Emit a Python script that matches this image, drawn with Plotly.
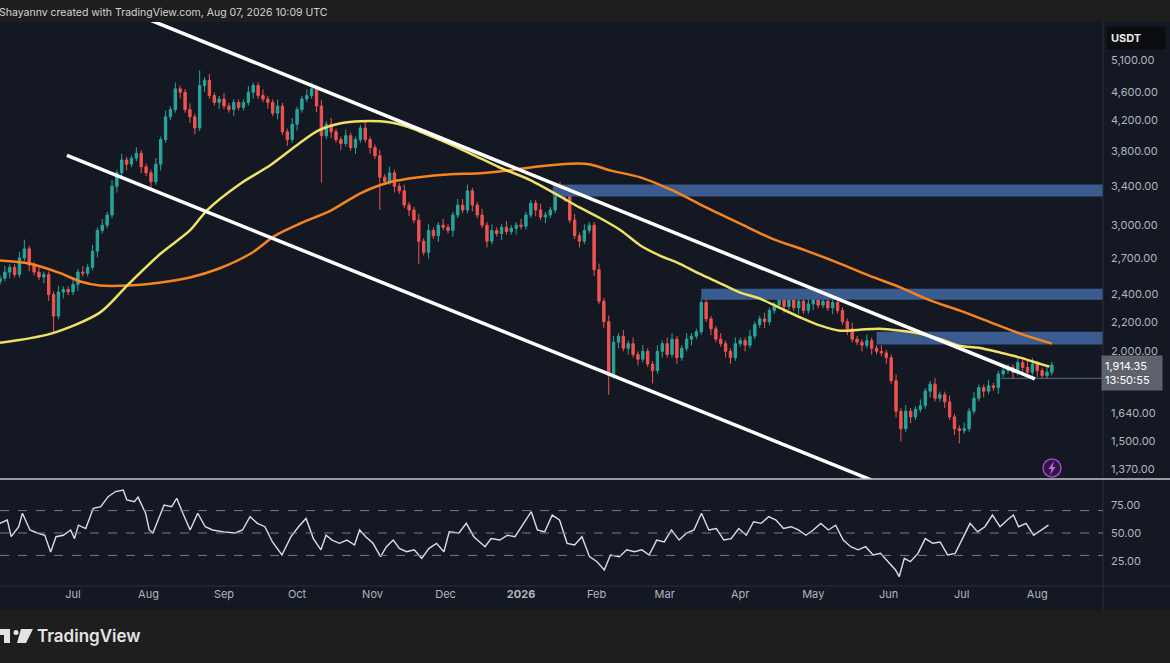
import numpy as np
import pandas as pd
import plotly.graph_objects as go

### Data ###
start = pd.Timestamp("2025-06-01")
candle_step = 2  # days per candle

first_open = 2500
closes = [
    2530, 2580, 2620, 2560, 2700, 2780, 2640, 2580, 2540, 2560,
    2400, 2240, 2420, 2440, 2420, 2480, 2580, 2570, 2620, 2760,
    2950, 3000, 3100, 3400, 3550, 3700, 3650, 3720, 3780, 3620,
    3550, 3450, 3650, 3950, 4250, 4350, 4650, 4600, 4350, 4250,
    4100, 4700, 4780, 4550, 4450, 4500, 4400, 4350, 4450, 4380,
    4450, 4600, 4700, 4550, 4500, 4450, 4300, 4400, 4050, 3950,
    4150, 4350, 4500, 4550, 4650, 4400, 4000, 4150, 4050, 3950,
    3900, 4000, 3850, 3950, 4100, 3950, 3850, 3750, 3500, 3450,
    3550, 3400, 3350, 3200, 3150, 3050, 2850, 2750, 2950, 2900,
    3000, 2980, 2950, 3100, 3200, 3150, 3350, 3200, 3100, 3000,
    2850, 2950, 2920, 2980, 2940, 2970, 3000, 2990, 3100, 3220,
    3150, 3080, 3100, 3150, 3380, 3350, 3300, 3050, 2900, 2850,
    2950, 3000, 2600, 2350, 2200, 1850, 2060, 2100, 2020, 2050,
    1980, 1950, 2000, 1920, 1880, 2000, 2050, 1980, 2080, 1960,
    2020, 2080, 2100, 2130, 2340, 2220, 2150, 2080, 2050, 2000,
    1960, 2050, 2070, 2040, 2100, 2180, 2220, 2200, 2280, 2320,
    2380, 2310, 2360, 2300, 2350, 2280, 2330, 2360, 2320, 2350,
    2300, 2340, 2280, 2200, 2150, 2080, 2060, 2040, 2070, 2020,
    2000, 1990, 1960, 1820, 1650, 1560, 1650, 1620, 1660, 1680,
    1760, 1800, 1720, 1740, 1700, 1620, 1560, 1550, 1560, 1650,
    1720, 1780, 1760, 1790, 1780, 1860, 1880, 1900, 1870, 1930,
    1900, 1870, 1920, 1880, 1850, 1870, 1914.35,
]
# wick lengths in percent of the body edge
upper_wick = [
    1, 2, 1, 1, 2, 3, 1, 1, 2, 1,
    1, 1, 2, 1, 1, 2, 1, 2, 1, 2,
    1, 2, 1, 2, 1, 2, 1, 1, 2, 1,
    1, 1, 2, 1, 2, 1, 2, 1, 1, 2,
    1, 5, 1, 2, 1, 1, 2, 1, 1, 1,
    1, 2, 1, 1, 2, 1, 1, 2, 1, 1,
    2, 1, 1, 2, 2, 1, 2, 1, 2, 1,
    1, 2, 1, 1, 1, 2, 1, 1, 2, 1,
    2, 1, 1, 2, 1, 1, 2, 1, 2, 1,
    1, 2, 1, 1, 2, 2, 2, 1, 1, 2,
    1, 2, 1, 1, 2, 1, 1, 2, 1, 1,
    1, 2, 1, 1, 1, 2, 1, 1, 2, 1,
    2, 1, 1, 2, 1, 2, 2, 1, 2, 1,
    2, 1, 2, 1, 1, 2, 1, 2, 2, 1,
    1, 2, 1, 1, 1, 2, 1, 1, 2, 1,
    1, 2, 1, 1, 2, 1, 1, 2, 1, 1,
    2, 1, 1, 2, 1, 1, 2, 1, 1, 2,
    1, 1, 2, 1, 1, 2, 1, 1, 2, 1,
    1, 2, 1, 1, 2, 1, 2, 1, 1, 2,
    1, 1, 2, 1, 1, 2, 1, 1, 2, 1,
    2, 1, 1, 2, 1, 1, 2, 1, 1, 2,
    1, 2, 2, 1, 1, 2, 1,
]
lower_wick = [
    1, 1, 2, 1, 1, 1, 2, 1, 1, 2,
    2, 5, 1, 2, 1, 1, 2, 1, 1, 1,
    2, 1, 1, 1, 2, 1, 2, 1, 1, 2,
    1, 2, 1, 2, 1, 1, 1, 2, 1, 2,
    2, 1, 2, 1, 1, 2, 1, 1, 2, 1,
    1, 1, 2, 1, 1, 2, 1, 2, 1, 2,
    1, 2, 1, 1, 1, 2, 14, 1, 2, 1,
    2, 1, 1, 2, 1, 1, 2, 1, 10, 1,
    1, 2, 1, 1, 2, 1, 7, 1, 2, 1,
    2, 1, 1, 2, 1, 1, 1, 2, 1, 1,
    2, 1, 1, 2, 1, 1, 2, 1, 1, 1,
    2, 1, 2, 1, 1, 1, 2, 1, 1, 2,
    1, 1, 2, 1, 2, 6, 1, 2, 1, 2,
    1, 2, 1, 1, 4, 1, 2, 1, 1, 2,
    1, 1, 2, 1, 1, 1, 2, 1, 1, 2,
    2, 1, 1, 2, 1, 1, 1, 2, 1, 1,
    1, 2, 1, 1, 2, 1, 1, 2, 1, 1,
    1, 2, 1, 1, 2, 1, 1, 2, 1, 2,
    1, 1, 2, 1, 2, 4, 1, 2, 1, 1,
    1, 2, 1, 1, 2, 1, 2, 4, 1, 1,
    1, 1, 2, 1, 1, 2, 1, 1, 2, 1,
    2, 1, 1, 2, 1, 1, 1,
]

# (day since start, price)
yellow_ma = [
    (0, 2056), (21, 2117), (41, 2265), (53, 2487), (66, 2739), (78, 2950), (85, 3147),
    (99, 3433), (111, 3637), (123, 3904), (131, 4071), (140, 4163), (148, 4191),
    (160, 4177), (168, 4110), (181, 3942), (193, 3780), (205, 3614), (218, 3466),
    (230, 3291), (238, 3176), (246, 3075), (255, 2950), (263, 2811), (271, 2721),
    (279, 2652), (287, 2569), (296, 2487), (304, 2416), (312, 2370), (320, 2302),
    (329, 2228), (337, 2172), (345, 2137), (353, 2144), (361, 2151), (370, 2137),
    (378, 2117), (386, 2082), (394, 2036), (402, 2023), (411, 1991), (419, 1960),
    (427, 1922), (431, 1904),
]
orange_ma = [
    (0, 2678), (12, 2652), (25, 2569), (33, 2503), (41, 2471), (53, 2471), (66, 2495),
    (78, 2536), (90, 2610), (103, 2739), (113, 2901), (123, 3014), (136, 3147),
    (148, 3324), (160, 3444), (172, 3499), (185, 3533), (197, 3544), (209, 3579),
    (222, 3625), (234, 3655), (242, 3650), (251, 3575), (263, 3499), (276, 3357),
    (290, 3176), (304, 3014), (317, 2874), (331, 2765), (345, 2652), (357, 2551),
    (370, 2455), (382, 2356), (394, 2281), (407, 2194), (419, 2117), (432, 2050),
]
rsi_points = [
    (0, 58.6), (3, 61.6), (4.6, 46.7), (7.7, 55.6), (9.2, 67.6), (12.3, 52.7), (15.3, 50),
    (18.4, 48), (20.8, 33), (23, 46.7), (26, 48), (29, 52.7), (30.6, 45), (32.2, 57),
    (35.2, 54), (38.3, 72), (41.4, 73.5), (44.4, 82.4), (47.5, 87), (50.6, 88.4),
    (52.1, 79.5), (55.2, 78), (56.7, 82), (59.8, 67.6), (61.3, 52.7), (62.8, 50),
    (64.4, 58.6), (67.4, 75), (70.5, 73.5), (72.6, 81), (75.1, 67.6), (78.1, 52.7),
    (81.2, 67.6), (84.3, 55.6), (87.3, 52.7), (91.9, 51), (96.5, 50), (99.6, 52.7),
    (102.7, 64.6), (105.7, 58.6), (108.8, 55.6), (111.9, 42), (115.8, 30.4),
    (119.5, 46.7), (122.6, 55.6), (125.7, 63), (128.7, 45), (131.8, 35), (133.9, 48),
    (136.4, 43.7), (139.4, 40.8), (142.5, 43.7), (145.6, 39.3), (147.7, 52.7),
    (150.2, 46.7), (153.2, 40.8), (156.3, 28.9), (158.7, 37.8), (161.5, 43.7),
    (164, 36.3), (167, 33.3), (170.1, 35), (173.2, 27.4), (176.2, 36.3), (179.3, 40.8),
    (182.3, 33.3), (184.5, 51), (188.5, 50), (191.5, 58.6), (194.6, 46.7), (199.2, 37.8),
    (201.7, 45), (205.3, 43.7), (208.4, 48), (211.5, 46.7), (214.5, 57), (218.2, 69),
    (220.7, 52.7), (223.7, 51), (226.8, 66), (229.8, 61.6), (232.9, 40.8), (236, 39.3),
    (239, 46.7), (242.1, 28.9), (245.2, 24.4), (248.2, 17), (250.7, 30.4), (254.4, 28.9),
    (257.4, 35), (260.5, 33.3), (263.6, 35), (266.6, 30.4), (269.7, 43.7), (272.8, 42),
    (275.8, 52.7), (278.9, 43.7), (282, 50), (285, 52.7), (288.1, 67.6), (291.1, 52.7),
    (294.2, 54), (297.3, 43.7), (300.3, 45), (303.4, 54), (306.5, 48), (309.5, 60),
    (312.6, 58.6), (315.7, 64.6), (318.7, 61.6), (321.8, 54), (324.9, 55.6),
    (327.9, 52.7), (331, 48), (334, 52.7), (337.1, 58.6), (340.2, 52.7), (343.2, 57),
    (346.3, 43.7), (349.4, 37.8), (352.4, 35), (355.5, 37.8), (358.6, 30.4),
    (361.6, 31.8), (364.7, 24.4), (367.8, 17), (369.3, 11), (371.4, 27.4), (373.9, 24.4),
    (377, 31.8), (380, 45), (383.1, 40.8), (386.1, 42), (389.2, 30.4), (392.3, 31.8),
    (395.3, 45), (398.4, 58.6), (401.5, 51), (404.5, 55.6), (407.6, 66), (410.7, 55.6),
    (413.7, 61.6), (416.2, 66), (418.3, 55.6), (421.4, 58.6), (424.5, 48), (427.5, 52.7),
    (430.6, 57),
]

channel_upper = [(57.5, 5877), (425, 1831)]
channel_lower = [(27.5, 3756), (372, 1265)]
# (start day, low price, high price)
zones = [(227, 3290, 3420), (288, 2360, 2445), (360, 2045, 2130)]
level_line = (411, 1834)

price_ticks = [1370, 1500, 1640, 1800, 2000, 2200, 2400, 2700, 3000, 3400, 3800, 4200, 4600, 5100]
rsi_ticks = [25, 50, 75]
rsi_bands = [30, 50, 70]
month_ticks = pd.date_range("2025-06-01", "2026-08-01", freq="MS")

x_days = (0, 453)
price_range = (1327, 5764)
rsi_range = (2.7, 97.3)
countdown = "13:50:55"

### Helpers ###
W, H = 1170, 663


def day(d):
    return start + pd.to_timedelta(d, unit="D")


def px(x):
    return x / W


def py(y):
    return 1 - y / H


### Candles ###
c = np.array(closes, dtype=float)
o = np.concatenate([[first_open], c[:-1]])
hi = np.maximum(o, c) * (1 + np.array(upper_wick) / 100)
lo = np.minimum(o, c) * (1 - np.array(lower_wick) / 100)
dates = day(np.arange(len(c)) * candle_step)

up, down = "#26a69a", "#ef5350"
bg = "#141823"
axis_font = dict(size=11, color="#b2b5be")

fig = go.Figure()

for d0, p_lo, p_hi in zones:
    fig.add_trace(go.Scatter(
        x=[day(d0), day(x_days[1]), day(x_days[1]), day(d0), day(d0)],
        y=[p_lo, p_lo, p_hi, p_hi, p_lo],
        fill="toself", fillcolor="#3a5b8e", mode="lines", line=dict(width=0),
        hoverinfo="skip",
    ))

fig.add_trace(go.Candlestick(
    x=dates, open=o, high=hi, low=lo, close=c,
    increasing=dict(line=dict(color=up, width=1), fillcolor=up),
    decreasing=dict(line=dict(color=down, width=1), fillcolor=down),
    whiskerwidth=0,
))

fig.add_trace(go.Scatter(
    x=[day(level_line[0]), day(x_days[1])], y=[level_line[1]] * 2,
    mode="lines", line=dict(color="#5d6c8e", width=1),
))

for pts, col in [(orange_ma, "#f7851f"), (yellow_ma, "#eee266")]:
    fig.add_trace(go.Scatter(
        x=[day(d) for d, _ in pts], y=[v for _, v in pts],
        mode="lines", line=dict(color=col, width=2.5, shape="spline", smoothing=0.8),
    ))

for pts in [channel_upper, channel_lower]:
    fig.add_trace(go.Scatter(
        x=[day(d) for d, _ in pts], y=[v for _, v in pts],
        mode="lines", line=dict(color="#ffffff", width=3.5),
    ))

fig.add_trace(go.Scatter(
    x=[day(d) for d, _ in rsi_points], y=[v for _, v in rsi_points],
    mode="lines", line=dict(color="#d9ddec", width=1.4),
    xaxis="x2", yaxis="y2",
))

### Layout ###
x_end = 1103 / W
bolt = [(1054, 461), (1048.5, 469), (1051.5, 469), (1050, 475), (1055.5, 467), (1052.5, 467)]
shapes = [
    dict(type="rect", xref="paper", yref="paper", x0=0, x1=1, y0=py(610), y1=py(22),
         fillcolor=bg, line=dict(width=0), layer="below"),
    dict(type="line", xref="paper", yref="paper", x0=x_end, x1=x_end, y0=py(610), y1=py(22),
         line=dict(color="#2a2e39", width=1)),
    dict(type="line", xref="paper", yref="paper", x0=0, x1=1, y0=py(586), y1=py(586),
         line=dict(color="#2a2e39", width=1)),
    dict(type="line", xref="paper", yref="paper", x0=0, x1=1, y0=py(479), y1=py(479),
         line=dict(color="#c3c6ce", width=1.5)),
    # lightning badge
    dict(type="circle", xref="paper", yref="paper", x0=px(1043), x1=px(1061),
         y0=py(477), y1=py(459), fillcolor="#2a1b3b", line=dict(color="#a640d6", width=1.5)),
    dict(type="path", xref="paper", yref="paper",
         path="M " + " L ".join(f"{px(a)},{py(b)}" for a, b in bolt) + " Z",
         fillcolor="#d05cf0", line=dict(width=0)),
    # TradingView logo
    dict(type="path", xref="paper", yref="paper",
         path=f"M {px(-3)},{py(629)} L {px(10)},{py(629)} L {px(10)},{py(643)} "
              f"L {px(4)},{py(643)} L {px(4)},{py(635)} L {px(-3)},{py(635)} Z",
         fillcolor="#e3e3e3", line=dict(width=0)),
    dict(type="circle", xref="paper", yref="paper", x0=px(13.5), x1=px(18.5),
         y0=py(635), y1=py(630), fillcolor="#e3e3e3", line=dict(width=0)),
    dict(type="path", xref="paper", yref="paper",
         path=f"M {px(21)},{py(629)} L {px(33)},{py(629)} L {px(26)},{py(643)} L {px(17)},{py(643)} Z",
         fillcolor="#e3e3e3", line=dict(width=0)),
]
for b in rsi_bands:
    shapes.append(dict(type="line", xref="paper", yref="y2", x0=0, x1=x_end, y0=b, y1=b,
                       line=dict(color="#787b86", width=1, dash="dash")))

month_text = ["<b>" + str(m.year) + "</b>" if m.month == 1 else m.strftime("%b") for m in month_ticks]

annotations = [
    dict(xref="paper", yref="paper", x=0, y=py(12), xanchor="left", yanchor="middle",
         xshift=-3, showarrow=False,
         text="Shayannv created with TradingView.com, Aug 07, 2026 10:09 UTC",
         font=dict(size=10.5, color="#d1d4dc")),
    dict(xref="paper", yref="paper", x=px(1106), y=py(38), xanchor="left", yanchor="middle",
         showarrow=False, text="<b>USDT</b>", bgcolor="#0c0d10", borderpad=4, width=50,
         align="left", font=dict(size=11, color="#e8e8e8")),
    dict(xref="paper", yref="y", x=px(1101), y=np.log10(c[-1]), yshift=-8,
         xanchor="left", yanchor="middle", showarrow=False, align="left",
         text=f"{c[-1]:,.2f}<br>{countdown}", bgcolor="#5f626d", borderpad=3, width=54,
         font=dict(size=11, color="#ffffff")),
    dict(xref="paper", yref="paper", x=px(35), y=py(636), xanchor="left", yanchor="middle",
         showarrow=False, text="TradingView",
         font=dict(size=17, color="#e3e3e3", weight=600)),
]

fig.update_layout(
    width=W, height=H, margin=dict(l=0, r=0, t=0, b=0),
    paper_bgcolor="#1e1e1e", plot_bgcolor="rgba(0,0,0,0)",
    showlegend=False,
    font=dict(family="Inter, Roboto, sans-serif"),
    xaxis=dict(domain=[0, x_end], anchor="y", range=[day(x_days[0]), day(x_days[1])],
               showticklabels=False, showgrid=False, zeroline=False,
               rangeslider=dict(visible=False)),
    yaxis=dict(domain=[py(479), py(22)], anchor="x", side="right", type="log",
               range=[np.log10(price_range[0]), np.log10(price_range[1])],
               tickvals=price_ticks, ticktext=[f"{v:,.2f}" for v in price_ticks],
               tickfont=axis_font, showgrid=False, zeroline=False, ticks="",
               ticklabelstandoff=7),
    xaxis2=dict(domain=[0, x_end], anchor="y2", matches="x",
                tickvals=month_ticks, ticktext=month_text, tickfont=axis_font,
                showgrid=False, zeroline=False, ticks="", showline=False),
    yaxis2=dict(domain=[py(586), py(480)], anchor="x2", side="right", range=list(rsi_range),
                tickvals=rsi_ticks, ticktext=[f"{v:.2f}" for v in rsi_ticks],
                tickfont=axis_font, showgrid=False, zeroline=False, ticks="",
                ticklabelstandoff=7),
    shapes=shapes,
    annotations=annotations,
)

# the page's default body margin would shift the picture by 8px
fig.write_html("out.html", config={"displayModeBar": False},
               post_script="document.body.style.margin='0px';")
